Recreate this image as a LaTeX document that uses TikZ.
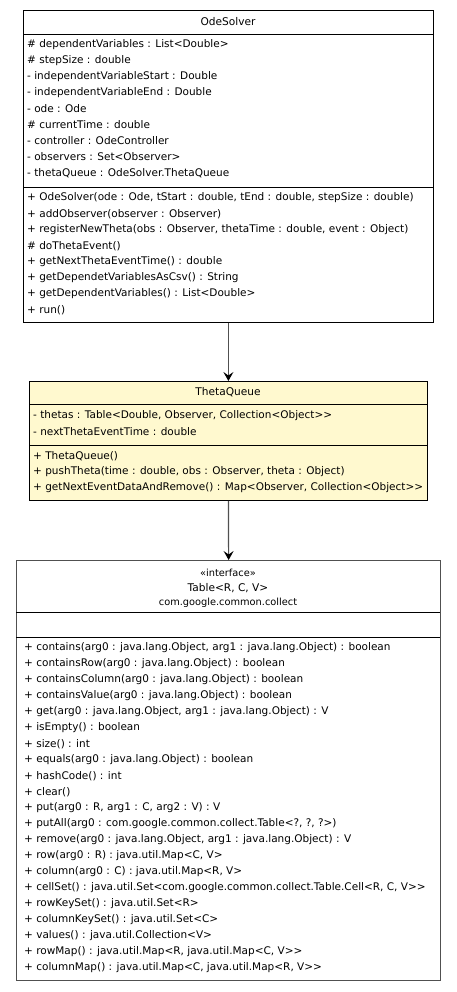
\documentclass[tikz,border=0pt]{standalone}
\usepackage{fontspec}
\setmainfont{DejaVu Sans}[Ligatures=TeXOff]
\usetikzlibrary{arrows.meta}

\definecolor{lemon}{HTML}{FFF9CF}
\definecolor{wire}{HTML}{505050}

\tikzset{
  classbox/.style={draw, line width=0.8pt, anchor=north west, inner sep=0pt},
  member/.style={anchor=west, inner sep=0pt, font=\fontsize{10.5}{12}\selectfont},
  classname/.style={inner sep=0pt, font=\fontsize{10.6}{12}\selectfont},
  pkgname/.style={inner sep=0pt, font=\fontsize{9.8}{10}\selectfont},
  depends/.style={draw=wire, line width=1.2pt, -{Stealth[length=9pt,width=10pt,inset=3.5pt,color=black]}},
}

\begin{document}
\begin{tikzpicture}[x=1pt,y=-1pt]
  \useasboundingbox (0,0) rectangle (456,992);

  % OdeSolver
  \node[classbox, minimum width=410pt, minimum height=312pt] (solver) at (23,10) {};
  \draw (23,34) -- (433,34);
  \draw (23,187) -- (433,187);
  \node[classname] (solvername) at (228,22) {OdeSolver};
  \foreach \m [count=\i from 0] in {%
      {\# dependentVariables : List<Double>},
      {\# stepSize : double},
      {- independentVariableStart : Double},
      {- independentVariableEnd : Double},
      {- ode : Ode},
      {\# currentTime : double},
      {- controller : OdeController},
      {- observers : Set<Observer>},
      {- thetaQueue : OdeSolver.ThetaQueue}}
    \node[member] (sa\i) at (27,{45+16*\i}) {\m};
  \foreach \m [count=\i from 0] in {%
      {+ OdeSolver(ode : Ode, tStart : double, tEnd : double, stepSize : double)},
      {+ addObserver(observer : Observer)},
      {+ registerNewTheta(obs : Observer, thetaTime : double, event : Object)},
      {\# doThetaEvent()},
      {+ getNextThetaEventTime() : double},
      {+ getDependetVariablesAsCsv() : String},
      {+ getDependentVariables() : List<Double>},
      {+ run()}}
    \node[member] (so\i) at (27,{198+16*\i}) {\m};

  % ThetaQueue
  \node[classbox, fill=lemon, minimum width=398pt, minimum height=119pt] (queue) at (29,381) {};
  \draw (29,404) -- (427,404);
  \draw (29,445) -- (427,445);
  \node[classname] (queuename) at (228,392) {ThetaQueue};
  \foreach \m [count=\i from 0] in {%
      {- thetas : Table<Double, Observer, Collection<Object>>},
      {- nextThetaEventTime : double}}
    \node[member] (qa\i) at (33,{416+16*\i}) {\m};
  \foreach \m [count=\i from 0] in {%
      {+ ThetaQueue()},
      {+ pushTheta(time : double, obs : Observer, theta : Object)},
      {+ getNextEventDataAndRemove() : Map<Observer, Collection<Object>>}}
    \node[member] (qo\i) at (33,{456+16*\i}) {\m};

  % Table
  \node[classbox, draw=wire, line width=1.3pt, minimum width=424pt, minimum height=420pt] (table) at (16,560) {};
  \draw (16,612) -- (440,612);
  \draw (16,637) -- (440,637);
  \node[pkgname] (stereo) at (228,573) {«interface»};
  \node[classname] (tablename) at (228,588) {Table<R, C, V>};
  \node[pkgname] (pkg) at (228,603) {com.google.common.collect};
  \foreach \m [count=\i from 0] in {%
      {+ contains(arg0 : java.lang.Object, arg1 : java.lang.Object) : boolean},
      {+ containsRow(arg0 : java.lang.Object) : boolean},
      {+ containsColumn(arg0 : java.lang.Object) : boolean},
      {+ containsValue(arg0 : java.lang.Object) : boolean},
      {+ get(arg0 : java.lang.Object, arg1 : java.lang.Object) : V},
      {+ isEmpty() : boolean},
      {+ size() : int},
      {+ equals(arg0 : java.lang.Object) : boolean},
      {+ hashCode() : int},
      {+ clear()},
      {+ put(arg0 : R, arg1 : C, arg2 : V) : V},
      {+ putAll(arg0 : com.google.common.collect.Table<?, ?, ?>)},
      {+ remove(arg0 : java.lang.Object, arg1 : java.lang.Object) : V},
      {+ row(arg0 : R) : java.util.Map<C, V>},
      {+ column(arg0 : C) : java.util.Map<R, V>},
      {+ cellSet() : java.util.Set<com.google.common.collect.Table.Cell<R, C, V>>},
      {+ rowKeySet() : java.util.Set<R>},
      {+ columnKeySet() : java.util.Set<C>},
      {+ values() : java.util.Collection<V>},
      {+ rowMap() : java.util.Map<R, java.util.Map<C, V>>},
      {+ columnMap() : java.util.Map<C, java.util.Map<R, V>>}}
    \node[member] (to\i) at (24,{648+16*\i}) {\m};

  % dependencies
  \draw[depends] (solver.south) -- (queue.north);
  \draw[depends] (queue.south) -- (table.north);
\end{tikzpicture}
\end{document}
